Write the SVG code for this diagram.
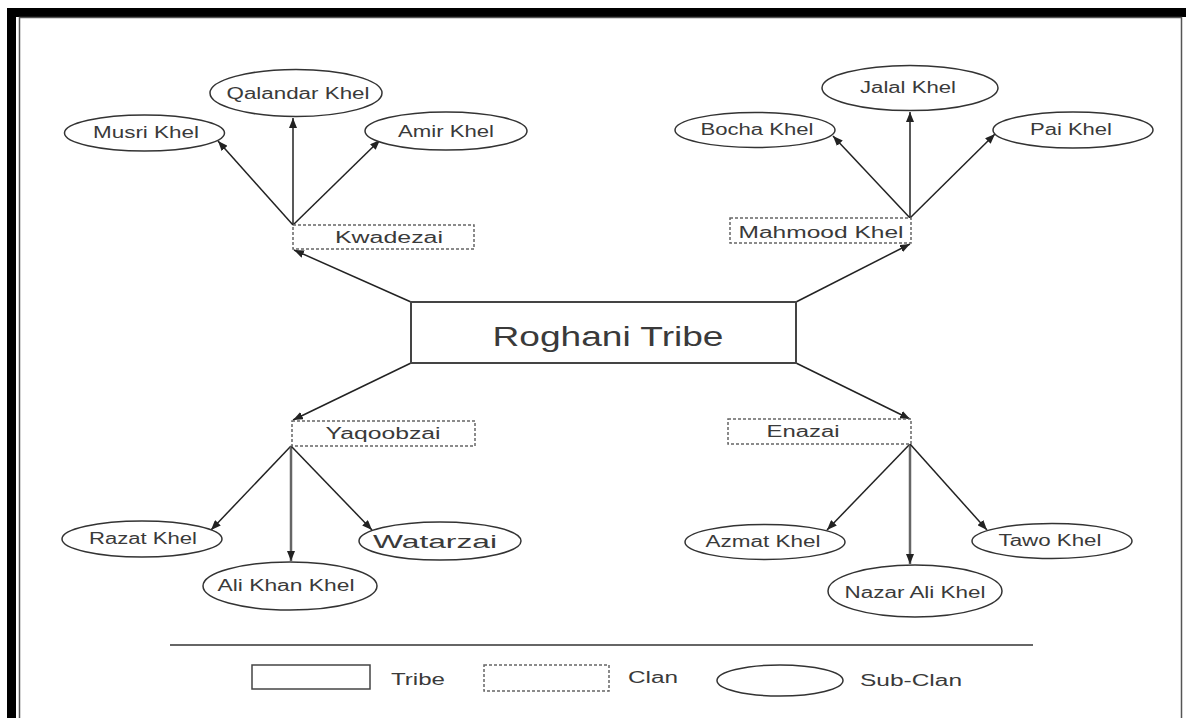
<svg xmlns="http://www.w3.org/2000/svg" width="1186" height="718" viewBox="0 0 1186 718">
<defs>
<marker id="ah" markerUnits="userSpaceOnUse" markerWidth="10" markerHeight="8" refX="10" refY="4" orient="auto">
<path d="M0,0 L10,4 L0,8 z" fill="#222"/>
</marker>
<style>
text{font-family:"Liberation Sans",Arial,sans-serif;fill:#3a3a3a;text-anchor:middle}
.sub{font-size:16px}
.clanT{font-size:16px}
.tribeT{font-size:27px}
.leg{font-size:16px;text-anchor:start}
.ell{fill:#fff;stroke:#333;stroke-width:1.5}
.clan{fill:#fff;stroke:#666;stroke-width:1.5;stroke-dasharray:3,2}
.tribe{fill:#fff;stroke:#444;stroke-width:2}
.con{stroke:#222;stroke-width:1.5;fill:none;marker-end:url(#ah)}
.vcon{stroke:#666;stroke-width:2.5;fill:none;marker-end:url(#ah)}
</style>
</defs>
<rect width="1186" height="718" fill="#fff"/>
<g id="frame">
<rect x="7" y="8" width="1179" height="9" fill="#000"/>
<rect x="7" y="8" width="9" height="710" fill="#000"/>
<path d="M19.5,718 V17.5 H1181.5 V718" fill="none" stroke="#555" stroke-width="1.5"/>
</g>
<g id="connectors">
<line class="con" x1="293" y1="225" x2="293" y2="118"/>
<line class="con" x1="293" y1="225" x2="218" y2="141"/>
<line class="con" x1="293" y1="225" x2="380" y2="140"/>
<line class="con" x1="411" y1="302" x2="294" y2="250"/>
<line class="con" x1="910" y1="218" x2="910" y2="112"/>
<line class="con" x1="910" y1="218" x2="833" y2="136"/>
<line class="con" x1="910" y1="218" x2="995" y2="134"/>
<line class="con" x1="796" y1="302" x2="910" y2="244"/>
<line class="con" x1="411" y1="363" x2="293" y2="420"/>
<line class="con" x1="291" y1="446" x2="211" y2="530"/>
<line class="vcon" x1="291" y1="446" x2="291" y2="561"/>
<line class="con" x1="291" y1="446" x2="372" y2="530"/>
<line class="con" x1="796" y1="363" x2="910" y2="419"/>
<line class="con" x1="910" y1="444" x2="827" y2="530"/>
<line class="vcon" x1="910" y1="444" x2="910" y2="564"/>
<line class="con" x1="910" y1="444" x2="987" y2="530"/>
</g>
<g id="roghani">
<rect class="tribe" x="411" y="302" width="385" height="61"/>
<text class="tribeT" x="608" y="346" textLength="231" lengthAdjust="spacingAndGlyphs">Roghani Tribe</text>
</g>
<g id="kwadezai">
<rect class="clan" x="293" y="225" width="181" height="24"/>
<text class="clanT" x="389" y="243" textLength="108" lengthAdjust="spacingAndGlyphs">Kwadezai</text>
</g>
<g id="mahmood">
<rect class="clan" x="730" y="218" width="181" height="25"/>
<text class="clanT" x="821" y="238" textLength="165" lengthAdjust="spacingAndGlyphs">Mahmood Khel</text>
</g>
<g id="yaqoobzai">
<rect class="clan" x="292" y="421" width="183" height="25"/>
<text class="clanT" x="383" y="439" textLength="115" lengthAdjust="spacingAndGlyphs">Yaqoobzai</text>
</g>
<g id="enazai">
<rect class="clan" x="728" y="419" width="183" height="25"/>
<text class="clanT" x="803" y="437" textLength="73" lengthAdjust="spacingAndGlyphs">Enazai</text>
</g>
<g id="qalandar">
<ellipse class="ell" cx="296" cy="93" rx="86" ry="23.5"/>
<text class="sub" x="298" y="99" textLength="143" lengthAdjust="spacingAndGlyphs">Qalandar Khel</text>
</g>
<g id="musri">
<ellipse class="ell" cx="144.5" cy="133" rx="80" ry="18"/>
<text class="sub" x="146" y="138" textLength="106" lengthAdjust="spacingAndGlyphs">Musri Khel</text>
</g>
<g id="amir">
<ellipse class="ell" cx="446" cy="131" rx="81" ry="19"/>
<text class="sub" x="446" y="137" textLength="96" lengthAdjust="spacingAndGlyphs">Amir Khel</text>
</g>
<g id="jalal">
<ellipse class="ell" cx="910" cy="88" rx="88" ry="22.5"/>
<text class="sub" x="908" y="93" textLength="96" lengthAdjust="spacingAndGlyphs">Jalal Khel</text>
</g>
<g id="bocha">
<ellipse class="ell" cx="755" cy="130" rx="80" ry="17.5"/>
<text class="sub" x="757" y="135" textLength="113" lengthAdjust="spacingAndGlyphs">Bocha Khel</text>
</g>
<g id="pai">
<ellipse class="ell" cx="1073" cy="130" rx="80" ry="18"/>
<text class="sub" x="1071" y="135" textLength="82" lengthAdjust="spacingAndGlyphs">Pai Khel</text>
</g>
<g id="razat">
<ellipse class="ell" cx="142" cy="539" rx="80" ry="18"/>
<text class="sub" x="143" y="544" textLength="108" lengthAdjust="spacingAndGlyphs">Razat Khel</text>
</g>
<g id="alikhan">
<ellipse class="ell" cx="290" cy="586" rx="87" ry="24"/>
<text class="sub" x="286" y="591" textLength="137" lengthAdjust="spacingAndGlyphs">Ali Khan Khel</text>
</g>
<g id="watarzai">
<ellipse class="ell" cx="440" cy="541" rx="81" ry="19"/>
<text class="sub" x="435" y="548" textLength="124" lengthAdjust="spacingAndGlyphs" style="font-size:18px">Watarzai</text>
</g>
<g id="azmat">
<ellipse class="ell" cx="765" cy="542" rx="80" ry="17.5"/>
<text class="sub" x="763" y="547" textLength="115" lengthAdjust="spacingAndGlyphs">Azmat Khel</text>
</g>
<g id="nazarali">
<ellipse class="ell" cx="915" cy="591" rx="87" ry="26"/>
<text class="sub" x="915" y="598" textLength="141" lengthAdjust="spacingAndGlyphs">Nazar Ali Khel</text>
</g>
<g id="tawo">
<ellipse class="ell" cx="1052" cy="541" rx="80" ry="17.5"/>
<text class="sub" x="1050" y="546" textLength="103" lengthAdjust="spacingAndGlyphs">Tawo Khel</text>
</g>
<g id="legend">
<line x1="170" y1="645" x2="1033" y2="645" stroke="#333" stroke-width="1.5"/>
<rect class="tribe" x="252" y="665" width="118" height="24" style="stroke-width:1.5"/>
<text class="leg" x="391" y="685" textLength="54" lengthAdjust="spacingAndGlyphs">Tribe</text>
<rect class="clan" x="484" y="665" width="125" height="26"/>
<text class="leg" x="628" y="683" textLength="50" lengthAdjust="spacingAndGlyphs">Clan</text>
<ellipse class="ell" cx="780" cy="680.5" rx="63" ry="15.5"/>
<text class="leg" x="860" y="686" textLength="102" lengthAdjust="spacingAndGlyphs">Sub-Clan</text>
</g>
</svg>
